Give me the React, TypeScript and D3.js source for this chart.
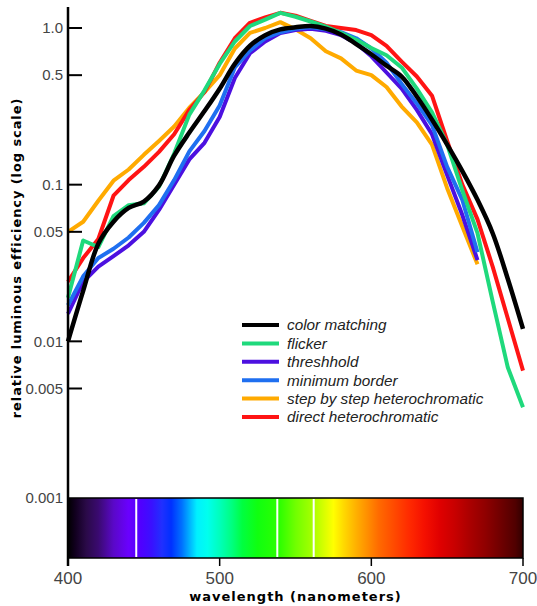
import React from 'react';
import * as d3 from 'd3';

const WAVELENGTHS = [400, 410, 420, 430, 440, 450, 460, 470, 480, 490, 500, 510, 520, 530, 540, 550, 560, 570, 580, 590, 600, 610, 620, 630, 640, 650, 660, 670, 680, 690, 700];

const COLOR_MATCHING = [0.0100, 0.021, 0.042, 0.058, 0.071, 0.078, 0.099, 0.153, 0.215, 0.295, 0.41, 0.59, 0.77, 0.90, 0.98, 1.01, 1.03, 0.99, 0.91, 0.79, 0.68, 0.575, 0.49, 0.365, 0.26, 0.18, 0.122, 0.08, 0.049, 0.025, 0.012];
const FLICKER = [0.019, 0.044, 0.040, 0.063, 0.074, 0.076, 0.097, 0.158, 0.28, 0.40, 0.59, 0.82, 1.03, 1.13, 1.25, 1.18, 1.10, 1.02, 0.93, 0.84, 0.745, 0.67, 0.56, 0.41, 0.29, 0.18, 0.092, 0.049, 0.018, 0.0068, 0.0038];
const THRESHHOLD = [0.015, 0.024, 0.030, 0.035, 0.041, 0.050, 0.069, 0.10, 0.145, 0.185, 0.27, 0.48, 0.69, 0.82, 0.93, 0.97, 0.99, 0.96, 0.90, 0.80, 0.66, 0.52, 0.41, 0.30, 0.21, 0.115, 0.064, 0.033, null, null, null];
const MINIMUM_BORDER = [0.017, 0.026, 0.034, 0.039, 0.046, 0.057, 0.074, 0.107, 0.163, 0.22, 0.32, 0.56, 0.72, 0.86, 0.94, 0.99, 1.01, 0.98, 0.94, 0.86, 0.74, 0.60, 0.44, 0.33, 0.24, 0.13, 0.08, 0.037, null, null, null];
const STEP_BY_STEP = [0.050, 0.058, 0.079, 0.106, 0.125, 0.155, 0.19, 0.235, 0.31, 0.39, 0.50, 0.74, 0.93, 1.00, 1.09, 0.98, 0.86, 0.71, 0.64, 0.535, 0.50, 0.42, 0.315, 0.25, 0.18, 0.095, 0.054, 0.031, null, null, null];
const DIRECT = [0.024, 0.034, 0.045, 0.085, 0.107, 0.130, 0.162, 0.21, 0.30, 0.39, 0.60, 0.86, 1.08, 1.17, 1.25, 1.20, 1.11, 1.03, 1.00, 0.97, 0.90, 0.77, 0.61, 0.49, 0.37, 0.19, 0.10, 0.060, 0.030, 0.014, 0.0065];

const SERIES_NAMES = ['color matching', 'flicker', 'threshhold', 'minimum border', 'step by step heterochromatic', 'direct heterochromatic'];
const SERIES_VALUES = [COLOR_MATCHING, FLICKER, THRESHHOLD, MINIMUM_BORDER, STEP_BY_STEP, DIRECT];
const SERIES_COLORS = ['#000000', '#1fd97c', '#4c10e0', '#1f6ff0', '#ffaa00', '#ff1414'];
const DRAW_ORDER = [4, 5, 2, 3, 1, 0];

const Y_TICKS = [1.0, 0.5, 0.1, 0.05, 0.01, 0.005, 0.001];
const Y_TICK_LABELS = ['1.0', '0.5', '0.1', '0.05', '0.01', '0.005', '0.001'];
const X_TICKS = [400, 500, 600, 700];
const CONE_PEAKS = [445, 538, 562];

const SPECTRUM_NM = [400, 405, 412, 420, 430, 440, 448, 455, 462, 468, 475, 480, 485, 492, 500, 508, 515, 525, 540, 550, 560, 567, 575, 582, 590, 597, 605, 615, 625, 635, 645, 655, 665, 675, 685, 695, 700];
const SPECTRUM_COLORS = ['#000000', '#120020', '#2a0a48', '#3a0a70', '#5a08c8', '#6a00ff', '#5000ff', '#3a10ff', '#2030ff', '#0030ff', '#0070ff', '#00b0ff', '#00f0ff', '#00ffee', '#00ffbb', '#00ff80', '#00ff40', '#10ff10', '#30ff00', '#70ff00', '#a0ff00', '#ccff00', '#ffff00', '#ffd800', '#ffb000', '#ff9000', '#ff6a00', '#ff4a00', '#ff2a00', '#f51000', '#e00000', '#c80000', '#aa0000', '#900000', '#700000', '#500000', '#300000'];

const W = 537;
const H = 606;

export default function App() {
  const x = d3.scaleLinear().domain([400, 700]).range([68, 523]);
  const y = d3.scaleLog().domain([0.001, 1]).range([498, 28]);
  const barTop = y(0.001);
  const barBottom = 558;

  const makeLine = (smooth: boolean) =>
    d3
      .line<[number, number | null]>()
      .defined((d) => d[1] != null)
      .x((d) => x(d[0]))
      .y((d) => y(d[1] as number))
      .curve(smooth ? d3.curveCatmullRom.alpha(0.5) : d3.curveLinear);

  const tickFont = '"Liberation Sans", Arial, sans-serif';
  const titleFont = '"DejaVu Sans", Verdana, sans-serif';

  return (
    <svg width={W} height={H} style={{ position: 'absolute', left: 0, top: 0, background: '#fff' }}>
      <defs>
        <linearGradient id="spectrum" x1="0" x2="1" y1="0" y2="0">
          {SPECTRUM_NM.map((nm, i) => (
            <stop key={i} offset={(nm - 400) / 300} stopColor={SPECTRUM_COLORS[i]} />
          ))}
        </linearGradient>
      </defs>

      {/* spectrum bar */}
      <rect x={x(400)} y={barTop} width={x(700) - x(400)} height={barBottom - barTop} fill="url(#spectrum)" stroke="#000" strokeWidth={1.5} />
      {CONE_PEAKS.map((nm, i) => (
        <line key={i} x1={x(nm)} x2={x(nm)} y1={barTop + 1} y2={barBottom - 1} stroke="#fff" strokeWidth={2} />
      ))}

      {/* curves */}
      {DRAW_ORDER.map((si) => {
        const pts: [number, number | null][] = WAVELENGTHS.map((w, i) => [w, SERIES_VALUES[si][i]]);
        return (
          <path
            key={si}
            d={makeLine(si === 0)(pts) || ''}
            fill="none"
            stroke={SERIES_COLORS[si]}
            strokeWidth={si === 0 ? 4.5 : 4}
            strokeLinejoin="round"
            strokeLinecap="butt"
          />
        );
      })}

      {/* y axis */}
      <line x1={68} x2={68} y1={7} y2={566} stroke="#000" strokeWidth={2.5} />
      {Y_TICKS.map((t, i) => (
        <g key={i}>
          {t > 0.001 && <line x1={68} x2={82} y1={y(t)} y2={y(t)} stroke="#000" strokeWidth={2} />}
          <text x={63} y={y(t)} dy="0.35em" textAnchor="end" fontFamily={tickFont} fontSize={15} fill="#444">
            {Y_TICK_LABELS[i]}
          </text>
        </g>
      ))}

      {/* x axis ticks */}
      {X_TICKS.map((t, i) => (
        <g key={i}>
          <line x1={x(t)} x2={x(t)} y1={barBottom} y2={566} stroke="#000" strokeWidth={1.5} />
          <text x={x(t)} y={584} textAnchor="middle" fontFamily={tickFont} fontSize={17} fill="#444">
            {t}
          </text>
        </g>
      ))}

      <text x={(x(400) + x(700)) / 2} y={601} textAnchor="middle" fontFamily={titleFont} fontWeight="bold" fontSize={13} letterSpacing={1} fill="#000">
        wavelength (nanometers)
      </text>
      <text transform={`translate(21, 258) rotate(-90)`} textAnchor="middle" fontFamily={titleFont} fontWeight="bold" fontSize={13} letterSpacing={0.9} fill="#000">
        relative luminous efficiency (log scale)
      </text>

      {/* legend */}
      {SERIES_NAMES.map((name, i) => {
        const ly = 325 + i * 18.4;
        return (
          <g key={i}>
            <line x1={242} x2={279} y1={ly} y2={ly} stroke={SERIES_COLORS[i]} strokeWidth={4} />
            <text x={287} y={ly} dy="0.35em" fontFamily={tickFont} fontStyle="italic" fontSize={15.3} fill="#222">
              {name}
            </text>
          </g>
        );
      })}
    </svg>
  );
}
